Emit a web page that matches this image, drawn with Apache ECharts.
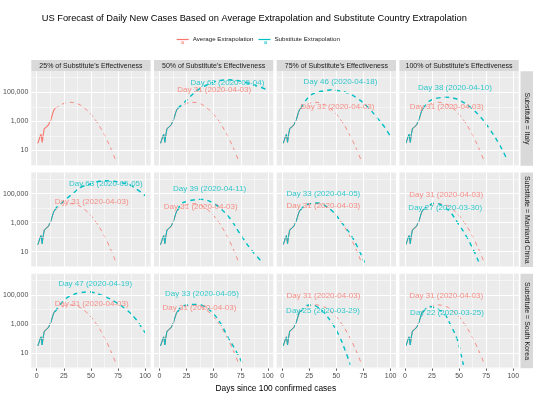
<!DOCTYPE html>
<html><head><meta charset="utf-8">
<script src="https://cdn.jsdelivr.net/npm/echarts@6/dist/echarts.min.js"></script>
<style>html,body{margin:0;padding:0;background:#fff}#c{width:560px;height:400px}</style>
</head><body><div id="c"></div>
<script>
// ---------------- data ----------------
const colLabels = ["25% of Substitute's Effectiveness", "50% of Substitute's Effectiveness", "75% of Substitute's Effectiveness", "100% of Substitute's Effectiveness"];
const rowLabels = ["Substitute = Italy", "Substitute = Mainland China", "Substitute = South Korea"];
const xTicks = [0, 25, 50, 75, 100];
const yTicks = [10, 1000, 100000];
const seriesNames = ["Average Extrapolation", "Substitute Extrapolation"];

// observed US daily new cases
const obsDays = [1, 2, 3, 4, 5, 6, 7, 8, 9, 10, 11, 12, 13, 14, 15, 16, 17];
const obsCases = [31, 50, 90, 130, 36, 125, 316, 363, 420, 500, 600, 900, 1260, 2240, 4000, 6300, 7900];

// average extrapolation (same in every panel)
const avgDays = [17, 20, 24, 28, 31, 35, 40, 45, 50, 55, 60, 65, 70, 73];
const avgCases = [7900, 10700, 15800, 19500, 20400, 18600, 13500, 7200, 3100, 1000, 250, 48, 7.1, 1.9];

// substitute extrapolation, one pair per panel
const subItaly50Days = [17, 20, 22, 25, 28, 32, 36, 40, 45, 50, 55, 62, 70, 78, 85, 92, 100];
const subItaly50Cases = [7900, 12600, 17400, 28000, 48000, 89000, 151000, 229000, 355000, 500000, 630000, 725000, 660000, 500000, 355000, 240000, 145000];
const subItaly75Days = [17, 21, 26, 32, 38, 44, 46, 52, 60, 69, 78, 87, 95, 100];
const subItaly75Cases = [7900, 22400, 60000, 100000, 123000, 145000, 148000, 129000, 91000, 40000, 11200, 2000, 355, 89];
const subItaly100Days = [17, 21, 26, 30, 35, 38, 45, 51, 60, 69, 78, 88, 94];
const subItaly100Cases = [7900, 20000, 33000, 40000, 44700, 45700, 38900, 27500, 10000, 2290, 316, 20, 2.6];
const subChina25Days = [17, 19, 23, 28, 34, 41, 48, 55, 63, 70, 78, 86, 95, 100];
const subChina25Cases = [7400, 13200, 22400, 47900, 112000, 282000, 417000, 631000, 759000, 708000, 562000, 380000, 141000, 70800];
const subChina50Days = [17, 20, 25, 31, 37, 39, 43, 50, 56, 65, 74, 84, 95];
const subChina50Cases = [7400, 20000, 28200, 36300, 39800, 39800, 36300, 21400, 9800, 2000, 186, 15.8, 1.8];
const subChina75Days = [17, 21, 25, 29, 33, 37, 41, 47, 53, 58, 63, 70, 76];
const subChina75Cases = [7400, 15800, 20000, 21900, 22400, 19100, 12600, 5600, 1580, 500, 158, 17.8, 1.8];
const subChina100Days = [17, 20, 23, 27, 30, 35, 42, 49, 57, 65, 68];
const subChina100Cases = [7400, 12600, 16600, 21900, 20900, 14100, 5250, 912, 107, 7.1, 2.1];
const subKorea25Days = [17, 21, 27, 33, 40, 47, 51, 61, 72, 83, 92, 98, 100];
const subKorea25Cases = [6900, 19100, 56200, 100000, 141000, 158000, 151000, 89000, 33900, 9100, 1860, 400, 250];
const subKorea50Days = [17, 20, 26, 33, 40, 48, 56, 63, 71, 77];
const subKorea50Cases = [6900, 14800, 20000, 22400, 18200, 6900, 1230, 132, 12.3, 1.6];
const subKorea75Days = [17, 21, 25, 29, 33, 38, 46, 53, 58, 63];
const subKorea75Cases = [6900, 15500, 20000, 19100, 14100, 6900, 1120, 132, 16.2, 1.5];
const subKorea100Days = [17, 20, 22, 26, 31, 37, 43, 48, 52, 54];
const subKorea100Cases = [6900, 12600, 15800, 14100, 10000, 4470, 646, 102, 7.4, 1.5];

// peak annotations (text)
const avgPeakText = "Day 31 (2020-04-03)";
const subPeakTexts = [null, "Day 62 (2020-05-04)", "Day 46 (2020-04-18)", "Day 38 (2020-04-10)",
  "Day 63 (2020-05-05)", "Day 39 (2020-04-11)", "Day 33 (2020-04-05)", "Day 27 (2020-03-30)",
  "Day 47 (2020-04-19)", "Day 33 (2020-04-05)", "Day 25 (2020-03-29)", "Day 22 (2020-03-25)"];

// ---------------- layout ----------------
const panelLeft = [31.3, 154.0, 276.7, 399.4], panelW = 119.3;
const panelTop = [71.2, 172.5, 273.8], panelH = 94.5;
// repelled label anchors [day, cases] for avg / sub label per panel
const avgLabelAt = [null, [50.5, 145000], [51, 10200], [38.6, 10200],
  [50.7, 27500], [38.1, 12600], [38, 14100], [38.1, 79400],
  [50.7, 23400], [36.9, 12000], [38.1, 83200], [38.1, 83200]];
const subLabelAt = [null, [62.7, 417000], [53.8, 537000], [46.2, 209000],
  [63.7, 457000], [46.3, 229000], [38, 93300], [37.3, 10000],
  [54, 562000], [39.2, 110000], [37.7, 7760], [38.9, 5900]];

const RED = '#F8766D', TEAL = '#00BFC4';
const FONT = 'Liberation Sans, Arial, Helvetica, sans-serif';

const subByPanel = [null,
  [subItaly50Days, subItaly50Cases], [subItaly75Days, subItaly75Cases], [subItaly100Days, subItaly100Cases],
  [subChina25Days, subChina25Cases], [subChina50Days, subChina50Cases], [subChina75Days, subChina75Cases], [subChina100Days, subChina100Cases],
  [subKorea25Days, subKorea25Cases], [subKorea50Days, subKorea50Cases], [subKorea75Days, subKorea75Cases], [subKorea100Days, subKorea100Cases]];

const zip = (a, b) => a.map((d, i) => [d, b[i]]);
const xMinor = [12.5, 37.5, 62.5, 87.5];
const yMinor = [1, 100, 10000, 1000000];

const grids = [], xAxes = [], yAxes = [], series = [], graphics = [];

for (let r = 0; r < 3; r++) {
  for (let c = 0; c < 4; c++) {
    const p = r * 4 + c;
    grids.push({ left: panelLeft[c], top: panelTop[r], width: panelW, height: panelH, show: true,
      backgroundColor: '#EBEBEB', borderWidth: 0, containLabel: false });
    xAxes.push({ gridIndex: p, type: 'value', min: -5, max: 105,
      axisLine: { show: false }, splitLine: { show: false },
      axisTick: { show: r === 2, customValues: xTicks, length: 2.5, lineStyle: { color: '#333', width: 0.8 } },
      axisLabel: { show: r === 2, customValues: xTicks, fontSize: 7, color: '#4D4D4D', margin: 4, fontFamily: FONT } });
    yAxes.push({ gridIndex: p, type: 'log', logBase: 10, min: Math.pow(10, -0.05), max: Math.pow(10, 6.45),
      axisLine: { show: false }, splitLine: { show: false }, minorSplitLine: { show: false },
      axisTick: { show: c === 0, customValues: yTicks, length: 2.5, lineStyle: { color: '#333', width: 0.8 } },
      axisLabel: { show: c === 0, customValues: yTicks, fontSize: 7, color: '#4D4D4D', margin: 3, fontFamily: FONT,
        formatter: v => Math.round(v).toLocaleString('en-US') } });
    // grid lines
    const ml = [];
    xMinor.forEach(v => ml.push({ xAxis: v, lineStyle: { color: '#fff', width: 0.5, type: 'solid' } }));
    yMinor.forEach(v => ml.push({ yAxis: v, lineStyle: { color: '#fff', width: 0.5, type: 'solid' } }));
    xTicks.forEach(v => ml.push({ xAxis: v, lineStyle: { color: '#fff', width: 1, type: 'solid' } }));
    yTicks.forEach(v => ml.push({ yAxis: v, lineStyle: { color: '#fff', width: 1, type: 'solid' } }));
    series.push({ type: 'line', name: 'grid' + p, xAxisIndex: p, yAxisIndex: p, data: [], z: 1, silent: true,
      markLine: { silent: true, symbol: ['none', 'none'], label: { show: false }, animation: false, data: ml } });

    // average extrapolation
    series.push({ type: 'line', name: seriesNames[0], xAxisIndex: p, yAxisIndex: p, data: zip(obsDays, obsCases),
      showSymbol: false, symbol: 'none', z: 3, itemStyle: { color: RED }, lineStyle: { color: RED, width: 1.1 } });
    series.push({ type: 'line', name: seriesNames[0], xAxisIndex: p, yAxisIndex: p, data: zip(avgDays, avgCases),
      showSymbol: false, symbol: 'none', smooth: 0.4, z: 3, itemStyle: { color: RED }, lineStyle: { color: RED, width: 1, type: [4, 4], opacity: 0.85 } });

    const sub = subByPanel[p];
    if (sub) {
      series.push({ type: 'line', name: seriesNames[1], xAxisIndex: p, yAxisIndex: p, data: zip(obsDays, obsCases),
        showSymbol: false, symbol: 'none', z: 4, itemStyle: { color: TEAL }, lineStyle: { color: TEAL, width: 1 } });
      series.push({ type: 'line', name: seriesNames[1], xAxisIndex: p, yAxisIndex: p, data: zip(sub[0], sub[1]),
        showSymbol: false, symbol: 'none', smooth: 0.4, z: 4, itemStyle: { color: TEAL }, lineStyle: { color: TEAL, width: 1.4, type: [4.5, 4] } });
      // peak labels
      series.push({ type: 'scatter', name: 'labels' + p, xAxisIndex: p, yAxisIndex: p, symbolSize: 0, z: 6, silent: true,
        data: [
          { value: subLabelAt[p], label: { formatter: subPeakTexts[p], color: TEAL } },
          { value: avgLabelAt[p], label: { formatter: avgPeakText, color: RED } }
        ],
        label: { show: true, position: 'inside', fontSize: 8, fontFamily: FONT, align: 'center', verticalAlign: 'middle' } });
    }
  }
}

// strips
for (let c = 0; c < 4; c++) {
  graphics.push({ type: 'rect', shape: { x: panelLeft[c], y: 60, width: panelW, height: 11.2 }, style: { fill: '#D9D9D9' }, silent: true });
  graphics.push({ type: 'text', x: panelLeft[c] + panelW / 2, y: 65.8, silent: true,
    style: { text: colLabels[c], fill: '#1A1A1A', font: '7px ' + FONT, align: 'center', verticalAlign: 'middle' } });
}
for (let r = 0; r < 3; r++) {
  graphics.push({ type: 'rect', shape: { x: 520.5, y: panelTop[r], width: 12.5, height: panelH }, style: { fill: '#D9D9D9' }, silent: true });
  graphics.push({ type: 'text', x: 526.8, y: panelTop[r] + panelH / 2, rotation: -Math.PI / 2, silent: true,
    style: { text: rowLabels[r], fill: '#1A1A1A', font: '7px ' + FONT, align: 'center', verticalAlign: 'middle' } });
}
// axis title
graphics.push({ type: 'text', x: 275.8, y: 388.5, silent: true,
  style: { text: 'Days since 100 confirmed cases', fill: '#000', font: '8.4px ' + FONT, align: 'center', verticalAlign: 'middle' } });
// legend key glyphs
graphics.push({ type: 'text', x: 182.6, y: 42.3, silent: true, style: { text: 'a', fill: RED, font: '5.5px ' + FONT, align: 'center', verticalAlign: 'middle' } });
graphics.push({ type: 'text', x: 265.6, y: 42.3, silent: true, style: { text: 'a', fill: TEAL, font: '5.5px ' + FONT, align: 'center', verticalAlign: 'middle' } });

const chart = echarts.init(document.getElementById('c'), null, { renderer: 'canvas' });
chart.setOption({
  animation: false,
  backgroundColor: '#fff',
  title: { text: 'US Forecast of Daily New Cases Based on Average Extrapolation and Substitute Country Extrapolation',
    left: 41.7, top: 13.5, padding: 0,
    textStyle: { fontSize: 9.3, fontWeight: 'normal', color: '#000', fontFamily: FONT } },
  legend: { data: seriesNames, left: 176.7, top: 36.5, padding: 0, itemGap: 5, itemWidth: 12, itemHeight: 1.2,
    icon: 'rect', textStyle: { fontSize: 6.2, color: '#1A1A1A', fontFamily: FONT, padding: [0, 0, 0, -1] }, selectedMode: false },
  grid: grids, xAxis: xAxes, yAxis: yAxes, series: series, graphic: graphics
});
</script></body></html>
